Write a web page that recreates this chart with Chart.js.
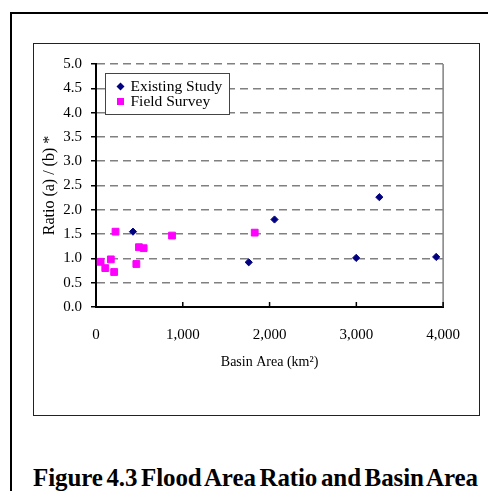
<!DOCTYPE html>
<html>
<head>
<meta charset="utf-8">
<script src="https://cdn.jsdelivr.net/npm/chart.js@4.4.1/dist/chart.umd.min.js"></script>
<style>
html, body { margin:0; padding:0; background:#fff; width:488px; height:491px; overflow:hidden; position:relative; font-family:"Liberation Serif","Times New Roman",serif; }
#frame { position:absolute; left:10px; top:12px; width:490px; height:490px; border-left:2px solid #000; border-top:2px solid #000; }
#box { position:absolute; left:33px; top:43px; width:447px; height:373px; border:1px solid #222; box-sizing:border-box; }
#wrap { position:absolute; left:33px; top:43px; width:446px; height:372px; }
#caption { position:absolute; left:33px; top:465px; line-height:25px; font-weight:bold; font-size:25px; white-space:nowrap; word-spacing:-2.5px; letter-spacing:-0.1px; }
</style>
</head>
<body>
<div id="frame"></div>
<div id="box"></div>
<div id="wrap"><canvas id="floodChart"></canvas></div>
<div id="caption">Figure 4.3 Flood Area Ratio and Basin Area</div>
<script>
// data
const existingArea  = [426, 1760, 2057, 3265, 2998, 3920];
const existingRatio = [1.55, 0.92, 1.80, 2.26, 1.01, 1.03];
const surveyArea  = [53, 107, 171, 209, 225, 465, 495, 549, 876, 1829];
const surveyRatio = [0.93, 0.80, 0.98, 0.72, 1.55, 0.885, 1.23, 1.21, 1.47, 1.53];
const xTickValues = [0, 1000, 2000, 3000, 4000];
const yTickValues = [0, 0.5, 1, 1.5, 2, 2.5, 3, 3.5, 4, 4.5, 5];
const seriesNames = ['Existing Study', 'Field Survey'];

const serif = "'Liberation Serif', 'Times New Roman', serif";

function toPoints(xs, ys){
  let pts = [];
  for(let i = 0; i < xs.length; i++){
    pts.push({x: xs[i], y: ys[i]});
  }
  return pts;
}

// right edge of plot, inward x ticks and the boxed legend
const decor = {
  id: 'decor',
  beforeDatasetsDraw(chart){
    const {ctx, chartArea: a, scales: {x}} = chart;
    ctx.save();
    ctx.strokeStyle = '#808080';
    ctx.lineWidth = 1.5;
    ctx.beginPath();
    ctx.moveTo(a.right, a.top);
    ctx.lineTo(a.right, a.bottom);
    ctx.stroke();
    ctx.strokeStyle = '#000';
    ctx.lineWidth = 1.5;
    x.ticks.forEach(t => {
      if(t.value === x.min) return;
      const px = x.getPixelForValue(t.value);
      ctx.beginPath();
      ctx.moveTo(px, a.bottom);
      ctx.lineTo(px, a.bottom - 5);
      ctx.stroke();
    });
    ctx.restore();
  },
  afterDraw(chart){
    const {ctx, chartArea: a} = chart;
    const bx = a.left + 9, by = a.top + 9;
    ctx.save();
    ctx.fillStyle = '#fff';
    ctx.fillRect(bx, by, 124, 41);
    ctx.strokeStyle = '#444';
    ctx.lineWidth = 1;
    ctx.strokeRect(bx + 0.5, by + 0.5, 124, 41);
    ctx.font = '15.5px ' + serif;
    ctx.textBaseline = 'middle';
    chart.data.datasets.forEach((ds, i) => {
      const my = by + 13.5 + i * 15;
      const mx = bx + 15.5;
      ctx.fillStyle = ds.backgroundColor;
      ctx.beginPath();
      if(ds.pointStyle === 'rectRot'){
        ctx.moveTo(mx - 4, my); ctx.lineTo(mx, my - 4);
        ctx.lineTo(mx + 4, my); ctx.lineTo(mx, my + 4);
        ctx.closePath();
        ctx.fill();
      } else {
        ctx.fillRect(mx - 3.5, my - 3.5, 7, 7);
      }
      ctx.fillStyle = '#000';
      ctx.fillText(ds.label, bx + 25.5, my + 0.5);
    });
    ctx.restore();
  }
};

let elChart = document.getElementById('floodChart').getContext('2d');
let floodChart = new Chart(elChart, {
  type: 'scatter',
  data: {
    datasets: [{
      label: seriesNames[0],
      data: toPoints(existingArea, existingRatio),
      pointStyle: 'rectRot',
      radius: 3.6,
      backgroundColor: '#000080',
      borderColor: '#000080',
      borderWidth: 1
    },
    {
      label: seriesNames[1],
      data: toPoints(surveyArea, surveyRatio),
      pointStyle: 'rect',
      radius: 4.8,
      backgroundColor: '#FF00FF',
      borderColor: '#FF00FF',
      borderWidth: 1
    }]
  },
  options: {
    responsive: true,
    maintainAspectRatio: false,
    animation: false,
    events: [],
    layout: { padding: { top: 21, right: 33, left: 0, bottom: 0 } },
    plugins: {
      legend: { display: false },
      tooltip: { enabled: false }
    },
    scales: {
      x: {
        type: 'linear',
        min: 0,
        max: 4000,
        afterBuildTicks: s => { s.ticks = xTickValues.map(v => ({value: v})); },
        afterFit: s => { s.height = 108; },
        ticks: {
          color: '#000',
          padding: 19,
          maxRotation: 0,
          font: { family: serif, size: 15 },
          callback: v => v.toLocaleString('en-US')
        },
        grid: { display: true, drawOnChartArea: false, drawTicks: false },
        border: { display: true, color: '#000', width: 2 },
        title: {
          display: true,
          text: 'Basin Area (km²)',
          color: '#000',
          font: { family: serif, size: 14 },
          padding: { top: 0, bottom: 44.5 }
        }
      },
      y: {
        type: 'linear',
        min: 0,
        max: 5,
        afterBuildTicks: s => { s.ticks = yTickValues.map(v => ({value: v})); },
        afterFit: s => { s.width = 63; },
        ticks: {
          color: '#000',
          padding: 9,
          font: { family: serif, size: 15 },
          callback: v => v.toFixed(1)
        },
        grid: {
          color: c => (c.tick && c.tick.value === 0) ? 'rgba(0,0,0,0)' : '#808080',
          lineWidth: 1.5,
          drawTicks: true,
          tickLength: 5,
          tickColor: '#000',
          tickWidth: 1.5
        },
        border: { display: true, color: '#000', width: 2, dash: [8, 5] },
        title: {
          display: true,
          text: 'Ratio (a) / (b) *',
          color: '#000',
          font: { family: serif, size: 16 },
          padding: { top: 7, bottom: 0 }
        }
      }
    }
  },
  plugins: [decor]
});
</script>
</body>
</html>
